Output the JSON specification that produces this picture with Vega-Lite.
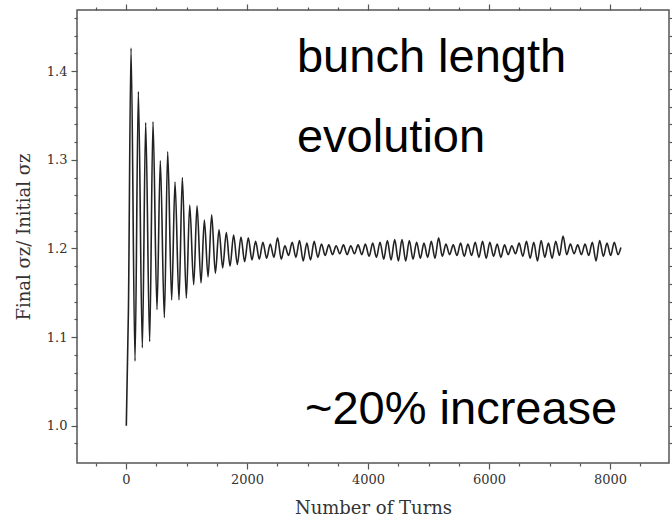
{
  "$schema": "https://vega.github.io/schema/vega-lite/v6.json",
  "autosize": {"type": "none"},
  "padding": {"left": 77, "top": 10, "right": 3, "bottom": 61},
  "width": 592,
  "height": 453,
  "background": "white",
  "config": {
    "view": {"stroke": "#555", "strokeWidth": 1.5},
    "axis": {"domain": false, "grid": false, "tickColor": "#555", "tickWidth": 1.2, "labelFont": "DejaVu Serif", "labelFontSize": 13, "labelColor": "#333", "titleFont": "DejaVu Serif", "titleFontWeight": "normal", "titleColor": "#333", "titleFontSize": 18}
  },
  "datasets": {
    "turns": [
      {"turn": 5, "ratio": 1.0},
      {"turn": 40, "ratio": 1.13},
      {"turn": 83, "ratio": 1.426},
      {"turn": 149, "ratio": 1.073},
      {"turn": 204, "ratio": 1.377},
      {"turn": 270, "ratio": 1.088},
      {"turn": 325, "ratio": 1.342},
      {"turn": 391, "ratio": 1.095},
      {"turn": 446, "ratio": 1.343},
      {"turn": 512, "ratio": 1.131},
      {"turn": 567, "ratio": 1.299},
      {"turn": 634, "ratio": 1.122},
      {"turn": 689, "ratio": 1.309},
      {"turn": 755, "ratio": 1.142},
      {"turn": 810, "ratio": 1.275},
      {"turn": 876, "ratio": 1.142},
      {"turn": 931, "ratio": 1.28},
      {"turn": 997, "ratio": 1.144},
      {"turn": 1053, "ratio": 1.249},
      {"turn": 1119, "ratio": 1.159},
      {"turn": 1174, "ratio": 1.248},
      {"turn": 1240, "ratio": 1.161},
      {"turn": 1295, "ratio": 1.232},
      {"turn": 1356, "ratio": 1.168},
      {"turn": 1416, "ratio": 1.238},
      {"turn": 1477, "ratio": 1.172},
      {"turn": 1537, "ratio": 1.221},
      {"turn": 1598, "ratio": 1.178},
      {"turn": 1658, "ratio": 1.218},
      {"turn": 1719, "ratio": 1.18},
      {"turn": 1779, "ratio": 1.215},
      {"turn": 1840, "ratio": 1.182},
      {"turn": 1900, "ratio": 1.213},
      {"turn": 1961, "ratio": 1.185},
      {"turn": 2021, "ratio": 1.212},
      {"turn": 2082, "ratio": 1.187},
      {"turn": 2142, "ratio": 1.208},
      {"turn": 2203, "ratio": 1.188},
      {"turn": 2263, "ratio": 1.207},
      {"turn": 2324, "ratio": 1.189},
      {"turn": 2384, "ratio": 1.205},
      {"turn": 2445, "ratio": 1.19},
      {"turn": 2505, "ratio": 1.212},
      {"turn": 2566, "ratio": 1.188},
      {"turn": 2626, "ratio": 1.203},
      {"turn": 2687, "ratio": 1.192},
      {"turn": 2747, "ratio": 1.207},
      {"turn": 2808, "ratio": 1.19},
      {"turn": 2868, "ratio": 1.209},
      {"turn": 2929, "ratio": 1.186},
      {"turn": 2989, "ratio": 1.206},
      {"turn": 3050, "ratio": 1.187},
      {"turn": 3110, "ratio": 1.208},
      {"turn": 3171, "ratio": 1.19},
      {"turn": 3231, "ratio": 1.205},
      {"turn": 3292, "ratio": 1.192},
      {"turn": 3352, "ratio": 1.204},
      {"turn": 3413, "ratio": 1.193},
      {"turn": 3473, "ratio": 1.203},
      {"turn": 3534, "ratio": 1.194},
      {"turn": 3594, "ratio": 1.204},
      {"turn": 3655, "ratio": 1.193},
      {"turn": 3715, "ratio": 1.203},
      {"turn": 3776, "ratio": 1.194},
      {"turn": 3836, "ratio": 1.204},
      {"turn": 3897, "ratio": 1.193},
      {"turn": 3957, "ratio": 1.205},
      {"turn": 4018, "ratio": 1.191},
      {"turn": 4078, "ratio": 1.206},
      {"turn": 4139, "ratio": 1.19},
      {"turn": 4199, "ratio": 1.207},
      {"turn": 4260, "ratio": 1.188},
      {"turn": 4320, "ratio": 1.209},
      {"turn": 4381, "ratio": 1.187},
      {"turn": 4441, "ratio": 1.21},
      {"turn": 4502, "ratio": 1.186},
      {"turn": 4562, "ratio": 1.21},
      {"turn": 4623, "ratio": 1.186},
      {"turn": 4683, "ratio": 1.209},
      {"turn": 4744, "ratio": 1.188},
      {"turn": 4804, "ratio": 1.207},
      {"turn": 4865, "ratio": 1.189},
      {"turn": 4925, "ratio": 1.206},
      {"turn": 4986, "ratio": 1.19},
      {"turn": 5046, "ratio": 1.208},
      {"turn": 5107, "ratio": 1.189},
      {"turn": 5167, "ratio": 1.212},
      {"turn": 5228, "ratio": 1.191},
      {"turn": 5288, "ratio": 1.205},
      {"turn": 5349, "ratio": 1.193},
      {"turn": 5409, "ratio": 1.204},
      {"turn": 5470, "ratio": 1.192},
      {"turn": 5530, "ratio": 1.206},
      {"turn": 5591, "ratio": 1.191},
      {"turn": 5651, "ratio": 1.205},
      {"turn": 5712, "ratio": 1.192},
      {"turn": 5772, "ratio": 1.207},
      {"turn": 5833, "ratio": 1.19},
      {"turn": 5893, "ratio": 1.208},
      {"turn": 5954, "ratio": 1.189},
      {"turn": 6014, "ratio": 1.207},
      {"turn": 6075, "ratio": 1.191},
      {"turn": 6135, "ratio": 1.205},
      {"turn": 6196, "ratio": 1.19},
      {"turn": 6256, "ratio": 1.204},
      {"turn": 6317, "ratio": 1.193},
      {"turn": 6377, "ratio": 1.203},
      {"turn": 6438, "ratio": 1.194},
      {"turn": 6498, "ratio": 1.206},
      {"turn": 6559, "ratio": 1.191},
      {"turn": 6619, "ratio": 1.208},
      {"turn": 6680, "ratio": 1.189},
      {"turn": 6740, "ratio": 1.207},
      {"turn": 6801, "ratio": 1.186},
      {"turn": 6861, "ratio": 1.209},
      {"turn": 6922, "ratio": 1.19},
      {"turn": 6982, "ratio": 1.206},
      {"turn": 7043, "ratio": 1.189},
      {"turn": 7103, "ratio": 1.208},
      {"turn": 7164, "ratio": 1.192},
      {"turn": 7224, "ratio": 1.214},
      {"turn": 7285, "ratio": 1.193},
      {"turn": 7345, "ratio": 1.205},
      {"turn": 7406, "ratio": 1.194},
      {"turn": 7466, "ratio": 1.204},
      {"turn": 7527, "ratio": 1.193},
      {"turn": 7587, "ratio": 1.205},
      {"turn": 7648, "ratio": 1.192},
      {"turn": 7708, "ratio": 1.207},
      {"turn": 7769, "ratio": 1.186},
      {"turn": 7829, "ratio": 1.209},
      {"turn": 7890, "ratio": 1.191},
      {"turn": 7950, "ratio": 1.206},
      {"turn": 8011, "ratio": 1.192},
      {"turn": 8071, "ratio": 1.207},
      {"turn": 8132, "ratio": 1.193},
      {"turn": 8180, "ratio": 1.201}
    ],
    "notes": [
      {"turn": 2826, "ratio": 1.399, "label": "bunch length"},
      {"turn": 2826, "ratio": 1.309, "label": "evolution"},
      {"turn": 2959, "ratio": 1.002, "label": "~20% increase"}
    ]
  },
  "resolve": {"axis": {"x": "independent", "y": "independent"}},
  "layer": [
    {
      "data": {"name": "turns"},
      "mark": {"type": "line", "color": "#222", "strokeWidth": 1.6, "interpolate": "monotone"},
      "encoding": {
        "x": {"field": "turn", "type": "quantitative", "scale": {"domain": [-810, 8975], "nice": false, "zero": false},
              "axis": {"orient": "bottom", "values": [0, 2000, 4000, 6000, 8000], "tickSize": 6, "labelPadding": 4, "title": "Number of Turns", "titlePadding": 13, "format": "d"}},
        "y": {"field": "ratio", "type": "quantitative", "scale": {"domain": [0.958, 1.469], "nice": false, "zero": false},
              "axis": {"orient": "left", "values": [1.0, 1.1, 1.2, 1.3, 1.4], "tickSize": 6, "labelPadding": 4, "format": ".1f", "title": "Final σz/ Initial σz", "titlePadding": 13}}
      }
    },
    {
      "data": {"name": "turns"},
      "mark": {"type": "line", "opacity": 0},
      "encoding": {
        "x": {"field": "turn", "type": "quantitative", "scale": {"domain": [-810, 8975], "nice": false, "zero": false},
              "axis": {"orient": "bottom", "values": [-500, 500, 1000, 1500, 2500, 3000, 3500, 4500, 5000, 5500, 6500, 7000, 7500, 8500], "tickSize": 3, "labels": false, "title": null}},
        "y": {"field": "ratio", "type": "quantitative", "scale": {"domain": [0.958, 1.469], "nice": false, "zero": false},
              "axis": {"orient": "left", "values": [0.98, 1.02, 1.04, 1.06, 1.08, 1.12, 1.14, 1.16, 1.18, 1.22, 1.24, 1.26, 1.28, 1.32, 1.34, 1.36, 1.38, 1.42, 1.44, 1.46], "tickSize": 3, "labels": false, "title": null}}
      }
    },
    {
      "data": {"name": "turns"},
      "mark": {"type": "line", "opacity": 0},
      "encoding": {
        "x": {"field": "turn", "type": "quantitative", "scale": {"domain": [-810, 8975], "nice": false, "zero": false},
              "axis": {"orient": "top", "values": [0, 2000, 4000, 6000, 8000], "tickSize": 6, "labels": false, "title": null}},
        "y": {"field": "ratio", "type": "quantitative", "scale": {"domain": [0.958, 1.469], "nice": false, "zero": false},
              "axis": {"orient": "right", "values": [1.0, 1.1, 1.2, 1.3, 1.4], "tickSize": 5, "labels": false, "title": null}}
      }
    },
    {
      "data": {"name": "turns"},
      "mark": {"type": "line", "opacity": 0},
      "encoding": {
        "x": {"field": "turn", "type": "quantitative", "scale": {"domain": [-810, 8975], "nice": false, "zero": false},
              "axis": {"orient": "top", "values": [-500, 500, 1000, 1500, 2500, 3000, 3500, 4500, 5000, 5500, 6500, 7000, 7500, 8500], "tickSize": 3, "labels": false, "title": null}},
        "y": {"field": "ratio", "type": "quantitative", "scale": {"domain": [0.958, 1.469], "nice": false, "zero": false},
              "axis": {"orient": "right", "values": [0.98, 1.02, 1.04, 1.06, 1.08, 1.12, 1.14, 1.16, 1.18, 1.22, 1.24, 1.26, 1.28, 1.32, 1.34, 1.36, 1.38, 1.42, 1.44, 1.46], "tickSize": 3, "labels": false, "title": null}}
      }
    },
    {
      "data": {"name": "notes"},
      "mark": {"type": "text", "font": "Liberation Sans", "fontSize": 47, "align": "left", "baseline": "alphabetic", "color": "#000"},
      "encoding": {
        "x": {"field": "turn", "type": "quantitative", "axis": null},
        "y": {"field": "ratio", "type": "quantitative", "axis": null},
        "text": {"field": "label"}
      }
    }
  ]
}
